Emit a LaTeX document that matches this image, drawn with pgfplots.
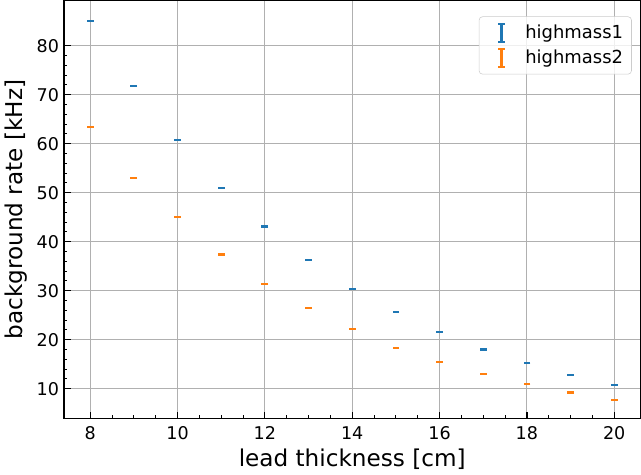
\documentclass[border=0pt]{standalone}
\usepackage{fontspec}
\setmainfont{DejaVu Sans}
\usepackage{pgfplots}
\pgfplotsset{compat=1.18}

\definecolor{c1}{HTML}{1F77B4}
\definecolor{c2}{HTML}{FF7F0E}
\definecolor{gridc}{HTML}{B0B0B0}

% errorbar glyph for the legend
\pgfplotsset{
  ebar/.style={
    legend image code/.code={
      \path[draw=none] (0pt,0pt) -- (27pt,0pt);
      \draw[#1, line width=1.8pt] (12pt,-6.3pt) -- (12pt,6.3pt);
      \draw[#1, line width=1.3pt] (9.6pt,-6.3pt) -- (14.4pt,-6.3pt);
      \draw[#1, line width=1.3pt] (9.6pt,6.3pt) -- (14.4pt,6.3pt);
    }
  }
}

\begin{document}
\begin{tikzpicture}
\begin{axis}[
  scale only axis,
  width=411pt, height=298pt,
  xmin=7.4, xmax=20.6,
  ymin=3.9, ymax=89.2,
  xtick={8,10,...,20},
  ytick={10,20,...,80},
  minor x tick num=3,
  minor y tick num=4,
  tick align=inside,
  xtick pos=bottom, ytick pos=left,
  major tick length=5pt,
  minor tick length=2.3pt,
  every major tick/.style={black, line width=0.9pt},
  every minor tick/.style={black, line width=0.7pt},
  axis line style={black, line width=0.8pt},
  grid=major,
  major grid style={gridc, line width=0.8pt},
  /pgf/number format/assume math mode=true,
  tick label style={font=\fontsize{12.5}{15}\selectfont},
  xticklabel style={yshift=-2pt},
  label style={font=\fontsize{16.5}{20}\selectfont},
  xlabel={lead thickness [cm]},
  ylabel={background rate [kHz]},
  legend style={
    at={(rel axis cs:0.985,0.962)}, anchor=north east,
    draw=gray!40, rounded corners=2.5pt,
    fill=white, fill opacity=0.8, text opacity=1,
    font=\fontsize{12.8}{15}\selectfont,
    row sep=2.5pt, inner xsep=4pt, inner ysep=4pt,
  },
  legend cell align=left,
]
\addplot[only marks, mark=-, mark size=2.4pt, c1,
  mark options={line width=1.6pt}, ebar=c1]
  coordinates {
    (8,85.1) (9,71.8) (10,60.8) (11,51.0) (12,43.1) (13,36.3) (14,30.4)
    (15,25.6) (16,21.5) (17,18.0) (18,15.2) (19,12.8) (20,10.8)
  };
\addlegendentry{highmass1}
\addplot[only marks, mark=-, mark size=2.4pt, c2,
  mark options={line width=1.6pt}, ebar=c2]
  coordinates {
    (8,63.4) (9,53.0) (10,45.0) (11,37.4) (12,31.4) (13,26.4) (14,22.1)
    (15,18.3) (16,15.4) (17,13.0) (18,10.9) (19,9.2) (20,7.7)
  };
\addlegendentry{highmass2}
\end{axis}
\end{tikzpicture}
\end{document}
